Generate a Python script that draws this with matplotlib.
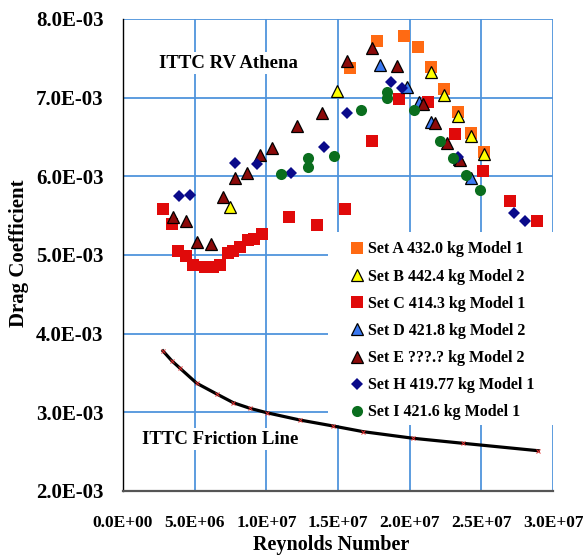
import matplotlib
matplotlib.use("Agg")
import matplotlib.pyplot as plt
from matplotlib.patches import Rectangle
from matplotlib.ticker import FixedLocator, FuncFormatter

plt.rcParams['font.family'] = ['Liberation Serif', 'DejaVu Serif']
plt.rcParams['font.weight'] = 'bold'

# ---- measured drag coefficients vs Reynolds number ----
set_a_re = [15.84e6, 17.70e6, 19.60e6, 20.56e6, 21.47e6, 22.42e6, 23.36e6, 24.28e6, 25.21e6]
set_a_cd = [7.381e-3, 7.720e-3, 7.788e-3, 7.640e-3, 7.393e-3, 7.110e-3, 6.814e-3, 6.555e-3, 6.313e-3]

set_b_re = [7.47e6, 14.93e6, 21.49e6, 22.42e6, 23.36e6, 24.28e6, 25.21e6]
set_b_cd = [5.614e-3, 7.085e-3, 7.322e-3, 7.030e-3, 6.771e-3, 6.513e-3, 6.280e-3]

set_c_re = [2.81e6, 3.40e6, 3.86e6, 4.40e6, 4.86e6, 5.72e6, 6.30e6, 6.77e6, 7.30e6, 7.70e6,
            8.16e6, 8.74e6, 9.14e6, 9.68e6, 11.58e6, 13.51e6, 15.49e6, 17.39e6, 19.28e6,
            21.26e6, 23.16e6, 25.10e6, 27.00e6, 28.90e6]
set_c_cd = [5.585e-3, 5.394e-3, 5.051e-3, 4.991e-3, 4.873e-3, 4.844e-3, 4.844e-3, 4.873e-3,
            5.029e-3, 5.051e-3, 5.098e-3, 5.191e-3, 5.199e-3, 5.263e-3, 5.487e-3, 5.377e-3,
            5.591e-3, 6.445e-3, 6.983e-3, 6.941e-3, 6.534e-3, 6.068e-3, 5.686e-3, 5.432e-3]

set_d_re = [17.95e6, 19.79e6, 20.65e6, 21.51e6, 23.46e6, 24.28e6]
set_d_cd = [7.415e-3, 7.131e-3, 6.941e-3, 6.694e-3, 6.220e-3, 5.975e-3]

set_e_re = [3.47e6, 4.37e6, 5.18e6, 6.12e6, 6.96e6, 7.79e6, 8.67e6, 9.56e6, 10.42e6, 12.16e6,
            13.86e6, 15.61e6, 17.35e6, 19.14e6, 20.91e6, 21.77e6, 22.58e6, 23.51e6]
set_e_cd = [5.479e-3, 5.432e-3, 5.169e-3, 5.136e-3, 5.733e-3, 5.983e-3, 6.038e-3, 6.271e-3,
            6.356e-3, 6.640e-3, 6.809e-3, 7.466e-3, 7.635e-3, 7.406e-3, 6.919e-3, 6.682e-3,
            6.428e-3, 6.207e-3]

set_h_re = [3.93e6, 4.67e6, 7.79e6, 9.37e6, 11.72e6, 14.02e6, 15.61e6, 18.68e6, 19.49e6,
            23.39e6, 27.30e6, 28.07e6]
set_h_cd = [5.750e-3, 5.759e-3, 6.166e-3, 6.153e-3, 6.038e-3, 6.373e-3, 6.801e-3, 7.203e-3,
            7.119e-3, 6.242e-3, 5.538e-3, 5.432e-3]

set_i_re = [11.02e6, 12.89e6, 12.89e6, 14.74e6, 16.60e6, 18.44e6, 18.44e6, 20.32e6, 22.12e6,
            23.04e6, 23.93e6, 24.91e6]
set_i_cd = [6.033e-3, 6.233e-3, 6.122e-3, 6.258e-3, 6.843e-3, 7.072e-3, 6.996e-3, 6.843e-3,
            6.453e-3, 6.237e-3, 6.017e-3, 5.826e-3]

# ITTC 1957 friction line
friction_re = [2.79e6, 3.40e6, 3.98e6, 5.14e6, 6.54e6, 7.70e6, 8.86e6, 10.03e6, 12.35e6,
               14.67e6, 16.77e6, 20.25e6, 23.74e6, 28.97e6]
friction_cd = [3.780e-3, 3.656e-3, 3.560e-3, 3.370e-3, 3.233e-3, 3.122e-3, 3.051e-3, 2.995e-3,
               2.902e-3, 2.826e-3, 2.754e-3, 2.670e-3, 2.606e-3, 2.512e-3]

series_labels = ["Set A 432.0 kg Model 1", "Set B 442.4 kg Model 2", "Set C 414.3 kg Model 1",
                 "Set D 421.8 kg Model 2", "Set E ???.? kg Model 2", "Set H 419.77 kg Model 1",
                 "Set I 421.6 kg Model 1"]

x_ticks = [0, 5e6, 10e6, 15e6, 20e6, 25e6, 30e6]
y_ticks = [2e-3, 3e-3, 4e-3, 5e-3, 6e-3, 7e-3, 8e-3]

grid_color = '#4f94dc'
W, H = 583, 555
AX_L, AX_R, AX_T, AX_B = 123, 553, 19, 491


def ax_x(px):
    return (px - AX_L) / (AX_R - AX_L)


def ax_y(py):
    return (AX_B - py) / (AX_B - AX_T)


fig = plt.figure(figsize=(W / 100, H / 100), dpi=100)
ax = fig.add_axes([AX_L / W, 1 - AX_B / H, (AX_R - AX_L) / W, (AX_B - AX_T) / H])
ax.set_xlim(0, 30e6)
ax.set_ylim(2e-3, 8e-3)

ax.xaxis.set_major_locator(FixedLocator(x_ticks))
ax.yaxis.set_major_locator(FixedLocator(y_ticks))
sci = FuncFormatter(lambda v, _: f"{v:.1E}")
ax.xaxis.set_major_formatter(sci)
ax.yaxis.set_major_formatter(sci)
ax.tick_params(axis='both', length=0)
ax.tick_params(axis='x', labelsize=12.5, pad=17)
ax.tick_params(axis='y', labelsize=15, pad=14)
for lbl in ax.get_xticklabels() + ax.get_yticklabels():
    lbl.set_fontweight('bold')

ax.grid(True, color=grid_color, linewidth=1.3, zorder=0)
ax.set_axisbelow(True)
for side in ('top', 'right'):
    ax.spines[side].set_visible(False)
ax.spines['left'].set_color('black')
ax.spines['left'].set_linewidth(1.0)
ax.spines['bottom'].set_color('#555555')
ax.spines['bottom'].set_linewidth(1.6)

# white panel behind the legend, hiding the grid there
ax.add_patch(Rectangle((ax_x(328), ax_y(425)), ax_x(557) - ax_x(328), ax_y(232) - ax_y(425),
                       transform=ax.transAxes, facecolor='white', edgecolor='none',
                       clip_on=False, zorder=1))

# friction line
ax.plot(friction_re, friction_cd, color='black', linewidth=2.3, zorder=3)
ax.plot(friction_re, friction_cd, linestyle='none', marker='x', markersize=2.5,
        color='#e03030', markeredgewidth=0.7, zorder=3)

# measured sets
ax.plot(set_a_re, set_a_cd, 's', color='#ff6a13', markersize=8.5, markeredgewidth=0,
        label=series_labels[0], zorder=4)
ax.plot(set_b_re, set_b_cd, '^', color='#ffff00', markeredgecolor='black', markersize=9,
        markeredgewidth=0.9, label=series_labels[1], zorder=4)
ax.plot(set_c_re, set_c_cd, 's', color='#e00a0a', markersize=8.5, markeredgewidth=0,
        label=series_labels[2], zorder=4)
ax.plot(set_d_re, set_d_cd, '^', color='#3a78f0', markeredgecolor='black', markersize=9,
        markeredgewidth=0.9, label=series_labels[3], zorder=4)
ax.plot(set_e_re, set_e_cd, '^', color='#8b0a0a', markeredgecolor='black', markersize=9,
        markeredgewidth=0.9, label=series_labels[4], zorder=4)
ax.plot(set_h_re, set_h_cd, 'D', color='#0a0a8a', markersize=5.8, markeredgewidth=0,
        label=series_labels[5], zorder=4)
ax.plot(set_i_re, set_i_cd, 'o', color='#0a6e1e', markersize=8, markeredgewidth=0,
        label=series_labels[6], zorder=4)

ax.text(ax_x(228), ax_y(63), "ITTC RV Athena", transform=ax.transAxes, ha='center',
        va='center', fontsize=13.5, fontweight='bold', zorder=5,
        bbox=dict(facecolor='white', edgecolor='none', pad=1.5))
ax.text(ax_x(220), ax_y(439), "ITTC Friction Line", transform=ax.transAxes, ha='center',
        va='center', fontsize=13.5, fontweight='bold', zorder=5,
        bbox=dict(facecolor='white', edgecolor='none', pad=1.5))

leg = ax.legend(loc='upper left', bbox_to_anchor=(ax_x(344), ax_y(235)), frameon=False,
                prop=dict(size=11.5, weight='bold'), handlelength=0.8, handletextpad=0.3,
                labelspacing=0.70, borderpad=0.4, borderaxespad=0)
leg.set_zorder(6)

ax.set_xlabel("Reynolds Number", fontsize=14.5, fontweight='bold')
ax.set_ylabel("Drag Coefficient", fontsize=15, fontweight='bold')
ax.xaxis.label.set_va('center')
ax.yaxis.label.set_va('center')
ax.xaxis.set_label_coords(ax_x(331), ax_y(545))
ax.yaxis.set_label_coords(ax_x(19), ax_y(253))

fig.savefig("out.png", dpi=100)
